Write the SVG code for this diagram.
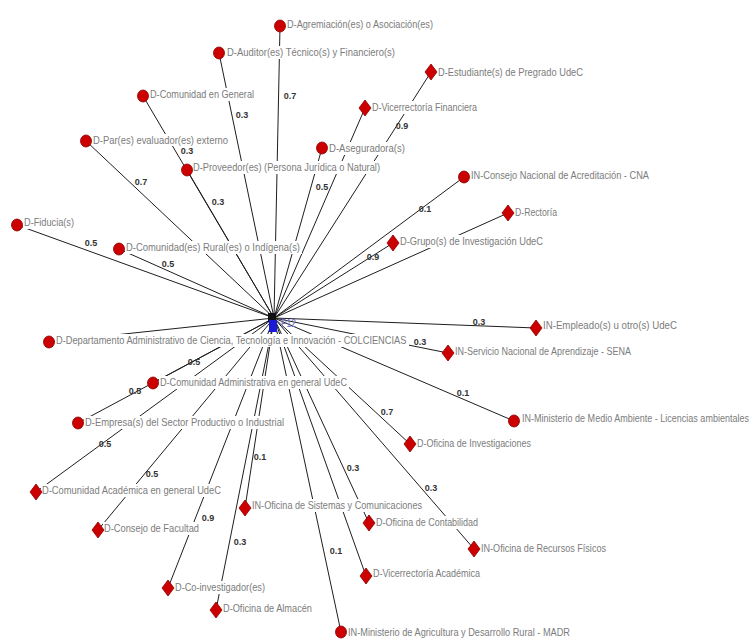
<svg xmlns="http://www.w3.org/2000/svg" xmlns:xlink="http://www.w3.org/1999/xlink" width="754" height="641" viewBox="0 0 754 641">
<style>
.e{stroke:#1e1e1e;stroke-width:1;fill:none}
.w{font-family:"Liberation Sans",Arial,sans-serif;font-size:9px;font-weight:bold;fill:#333;text-anchor:middle}
.lbl{font-family:"Liberation Sans",Arial,sans-serif;font-size:11px;fill:#7c7c7c}
.bg{fill:#fff}
.dot{fill:#cc0000;stroke:#8a0000;stroke-width:0.8}
</style>
<defs>
<path id="dia" d="M0,-8 L6,0 L0,8 L-6,0 Z"/>
<ellipse id="cir" cx="0" cy="0" rx="5.5" ry="6"/>
</defs>
<rect width="754" height="641" fill="#fff"/>
<g id="connectors">
<line class="e" x1="274" y1="318" x2="280" y2="26"/>
<line class="e" x1="274" y1="318" x2="219" y2="53"/>
<line class="e" x1="274" y1="318" x2="143" y2="96"/>
<line class="e" x1="274" y1="318" x2="86" y2="141"/>
<line class="e" x1="274" y1="318" x2="431" y2="72"/>
<line class="e" x1="274" y1="318" x2="365" y2="108"/>
<line class="e" x1="274" y1="318" x2="322" y2="148"/>
<line class="e" x1="274" y1="318" x2="187" y2="170"/>
<line class="e" x1="274" y1="318" x2="17" y2="225"/>
<line class="e" x1="274" y1="318" x2="119" y2="249"/>
<line class="e" x1="274" y1="318" x2="464" y2="177"/>
<line class="e" x1="274" y1="318" x2="508" y2="213"/>
<line class="e" x1="274" y1="318" x2="393" y2="243"/>
<line class="e" x1="274" y1="318" x2="536" y2="328"/>
<line class="e" x1="274" y1="318" x2="448" y2="353"/>
<line class="e" x1="274" y1="318" x2="514" y2="421"/>
<line class="e" x1="274" y1="318" x2="410" y2="444"/>
<line class="e" x1="274" y1="318" x2="49" y2="342"/>
<line class="e" x1="274" y1="318" x2="153" y2="383"/>
<line class="e" x1="274" y1="318" x2="78" y2="423"/>
<line class="e" x1="274" y1="318" x2="36" y2="492"/>
<line class="e" x1="274" y1="318" x2="98" y2="530"/>
<line class="e" x1="274" y1="318" x2="245" y2="508"/>
<line class="e" x1="274" y1="318" x2="369" y2="523"/>
<line class="e" x1="274" y1="318" x2="474" y2="549"/>
<line class="e" x1="274" y1="318" x2="366" y2="576"/>
<line class="e" x1="274" y1="318" x2="168" y2="588"/>
<line class="e" x1="274" y1="318" x2="216" y2="610"/>
<line class="e" x1="274" y1="318" x2="341" y2="632"/>
<text class="w" x="290" y="99">0.7</text>
<text class="w" x="242" y="118">0.3</text>
<text class="w" x="187" y="154">0.3</text>
<text class="w" x="402" y="129">0.9</text>
<text class="w" x="141" y="185">0.7</text>
<text class="w" x="218" y="205">0.3</text>
<text class="w" x="322" y="190">0.5</text>
<text class="w" x="91" y="246">0.5</text>
<text class="w" x="168" y="267">0.5</text>
<text class="w" x="425" y="212">0.1</text>
<text class="w" x="373" y="260">0.9</text>
<text class="w" x="479" y="325">0.3</text>
<text class="w" x="420" y="345">0.3</text>
<text class="w" x="463" y="396">0.1</text>
<text class="w" x="387" y="415">0.7</text>
<text class="w" x="194" y="365">0.5</text>
<text class="w" x="135" y="394">0.5</text>
<text class="w" x="105" y="447">0.5</text>
<text class="w" x="152" y="477">0.5</text>
<text class="w" x="260" y="460">0.1</text>
<text class="w" x="353" y="471">0.3</text>
<text class="w" x="431" y="491">0.3</text>
<text class="w" x="208" y="521">0.9</text>
<text class="w" x="240" y="545">0.3</text>
<text class="w" x="336" y="554">0.1</text>
</g>
<g id="n1"><rect class="bg" x="286" y="18" width="149" height="13"/><use href="#cir" x="280" y="26" class="dot"/><text class="lbl" x="287" y="28" textLength="146" lengthAdjust="spacingAndGlyphs">D-Agremiación(es) o Asociación(es)</text></g>
<g id="n2"><rect class="bg" x="226" y="46" width="170" height="13"/><use href="#cir" x="219" y="53" class="dot"/><text class="lbl" x="227" y="56" textLength="168" lengthAdjust="spacingAndGlyphs">D-Auditor(es) Técnico(s) y Financiero(s)</text></g>
<g id="n3"><rect class="bg" x="149" y="88" width="106" height="13"/><use href="#cir" x="143" y="96" class="dot"/><text class="lbl" x="150" y="98" textLength="104" lengthAdjust="spacingAndGlyphs">D-Comunidad en General</text></g>
<g id="n4"><rect class="bg" x="92" y="134" width="137" height="12"/><use href="#cir" x="86" y="141" class="dot"/><text class="lbl" x="93" y="144" textLength="135" lengthAdjust="spacingAndGlyphs">D-Par(es) evaluador(es) externo</text></g>
<g id="n5"><rect class="bg" x="437" y="66" width="148" height="13"/><use href="#dia" x="431" y="72" class="dot"/><text class="lbl" x="438" y="76" textLength="145" lengthAdjust="spacingAndGlyphs">D-Estudiante(s) de Pregrado UdeC</text></g>
<g id="n6"><rect class="bg" x="371" y="101" width="108" height="13"/><use href="#dia" x="365" y="108" class="dot"/><text class="lbl" x="372" y="111" textLength="105" lengthAdjust="spacingAndGlyphs">D-Vicerrectoría Financiera</text></g>
<g id="n7"><rect class="bg" x="328" y="142" width="78" height="13"/><use href="#cir" x="322" y="148" class="dot"/><text class="lbl" x="329" y="152" textLength="76" lengthAdjust="spacingAndGlyphs">D-Aseguradora(s)</text></g>
<g id="n8"><rect class="bg" x="192" y="161" width="189" height="13"/><use href="#cir" x="187" y="170" class="dot"/><text class="lbl" x="193" y="171" textLength="187" lengthAdjust="spacingAndGlyphs">D-Proveedor(es) (Persona Jurídica o Natural)</text></g>
<g id="n9"><rect class="bg" x="23" y="216" width="53" height="13"/><use href="#cir" x="17" y="225" class="dot"/><text class="lbl" x="24" y="226" textLength="50" lengthAdjust="spacingAndGlyphs">D-Fiducia(s)</text></g>
<g id="n10"><rect class="bg" x="125" y="241" width="177" height="13"/><use href="#cir" x="119" y="249" class="dot"/><text class="lbl" x="126" y="251" textLength="174" lengthAdjust="spacingAndGlyphs">D-Comunidad(es) Rural(es) o Indígena(s)</text></g>
<g id="n11"><rect class="bg" x="470" y="169" width="181" height="13"/><use href="#cir" x="464" y="177" class="dot"/><text class="lbl" x="471" y="179" textLength="178" lengthAdjust="spacingAndGlyphs">IN-Consejo Nacional de Acreditación - CNA</text></g>
<g id="n12"><rect class="bg" x="514" y="206" width="45" height="13"/><use href="#dia" x="508" y="213" class="dot"/><text class="lbl" x="515" y="216" textLength="42" lengthAdjust="spacingAndGlyphs">D-Rectoría</text></g>
<g id="n13"><rect class="bg" x="399" y="235" width="146" height="13"/><use href="#dia" x="393" y="243" class="dot"/><text class="lbl" x="400" y="245" textLength="143" lengthAdjust="spacingAndGlyphs">D-Grupo(s) de Investigación UdeC</text></g>
<g id="n14"><rect class="bg" x="542" y="319" width="137" height="13"/><use href="#dia" x="536" y="328" class="dot"/><text class="lbl" x="543" y="329" textLength="134" lengthAdjust="spacingAndGlyphs">IN-Empleado(s) u otro(s) UdeC</text></g>
<g id="n15"><rect class="bg" x="454" y="345" width="179" height="13"/><use href="#dia" x="448" y="353" class="dot"/><text class="lbl" x="455" y="355" textLength="176" lengthAdjust="spacingAndGlyphs">IN-Servicio Nacional de Aprendizaje - SENA</text></g>
<g id="n16"><rect class="bg" x="521" y="412" width="230" height="13"/><use href="#cir" x="514" y="421" class="dot"/><text class="lbl" transform="translate(522 422) scale(0.78 1)" x="0" y="0" textLength="291" lengthAdjust="spacingAndGlyphs">IN-Ministerio de Medio Ambiente - Licencias ambientales</text></g>
<g id="n17"><rect class="bg" x="416" y="437" width="117" height="13"/><use href="#dia" x="410" y="444" class="dot"/><text class="lbl" x="417" y="447" textLength="114" lengthAdjust="spacingAndGlyphs">D-Oficina de Investigaciones</text></g>
<g id="n18"><rect class="bg" x="55" y="334" width="354" height="13"/><use href="#cir" x="49" y="342" class="dot"/><text class="lbl" transform="translate(56 344) scale(0.8 1)" x="0" y="0" textLength="438" lengthAdjust="spacingAndGlyphs">D-Departamento Administrativo de Ciencia, Tecnología e Innovación - COLCIENCIAS</text></g>
<g id="n19"><rect class="bg" x="159" y="376" width="190" height="13"/><use href="#cir" x="153" y="383" class="dot"/><text class="lbl" x="160" y="386" textLength="187" lengthAdjust="spacingAndGlyphs">D-Comunidad Administrativa en general UdeC</text></g>
<g id="n20"><rect class="bg" x="84" y="416" width="202" height="13"/><use href="#cir" x="78" y="423" class="dot"/><text class="lbl" x="85" y="426" textLength="199" lengthAdjust="spacingAndGlyphs">D-Empresa(s) del Sector Productivo o Industrial</text></g>
<g id="n21"><rect class="bg" x="41" y="484" width="182" height="13"/><use href="#dia" x="36" y="492" class="dot"/><text class="lbl" x="42" y="494" textLength="179" lengthAdjust="spacingAndGlyphs">D-Comunidad Académica en general UdeC</text></g>
<g id="n22"><rect class="bg" x="103" y="522" width="98" height="13"/><use href="#dia" x="98" y="530" class="dot"/><text class="lbl" x="104" y="532" textLength="95" lengthAdjust="spacingAndGlyphs">D-Consejo de Facultad</text></g>
<g id="n23"><rect class="bg" x="251" y="499" width="173" height="13"/><use href="#dia" x="245" y="508" class="dot"/><text class="lbl" x="252" y="509" textLength="170" lengthAdjust="spacingAndGlyphs">IN-Oficina de Sistemas y Comunicaciones</text></g>
<g id="n24"><rect class="bg" x="375" y="516" width="105" height="13"/><use href="#dia" x="369" y="523" class="dot"/><text class="lbl" x="376" y="526" textLength="102" lengthAdjust="spacingAndGlyphs">D-Oficina de Contabilidad</text></g>
<g id="n25"><rect class="bg" x="480" y="542" width="128" height="13"/><use href="#dia" x="474" y="549" class="dot"/><text class="lbl" x="481" y="552" textLength="125" lengthAdjust="spacingAndGlyphs">IN-Oficina de Recursos Físicos</text></g>
<g id="n26"><rect class="bg" x="372" y="567" width="110" height="13"/><use href="#dia" x="366" y="576" class="dot"/><text class="lbl" x="373" y="577" textLength="107" lengthAdjust="spacingAndGlyphs">D-Vicerrectoría Académica</text></g>
<g id="n27"><rect class="bg" x="174" y="581" width="93" height="13"/><use href="#dia" x="168" y="588" class="dot"/><text class="lbl" x="175" y="591" textLength="90" lengthAdjust="spacingAndGlyphs">D-Co-investigador(es)</text></g>
<g id="n28"><rect class="bg" x="222" y="602" width="92" height="13"/><use href="#dia" x="216" y="610" class="dot"/><text class="lbl" x="223" y="612" textLength="89" lengthAdjust="spacingAndGlyphs">D-Oficina de Almacén</text></g>
<g id="n29"><rect class="bg" x="347" y="626" width="225" height="13"/><use href="#cir" x="341" y="632" class="dot"/><text class="lbl" x="348" y="636" textLength="222" lengthAdjust="spacingAndGlyphs">IN-Ministerio de Agricultura y Desarrollo Rural - MADR</text></g>
<g id="p12">
<rect x="268" y="313" width="8" height="9" fill="#111"/>
<rect x="269" y="320" width="8" height="12" fill="#1a1ad8"/>
<text x="281" y="327" font-family="'Liberation Sans',Arial,sans-serif" font-size="11" fill="#6a6ad0" textLength="15" lengthAdjust="spacingAndGlyphs">P12</text>
</g>
</svg>
